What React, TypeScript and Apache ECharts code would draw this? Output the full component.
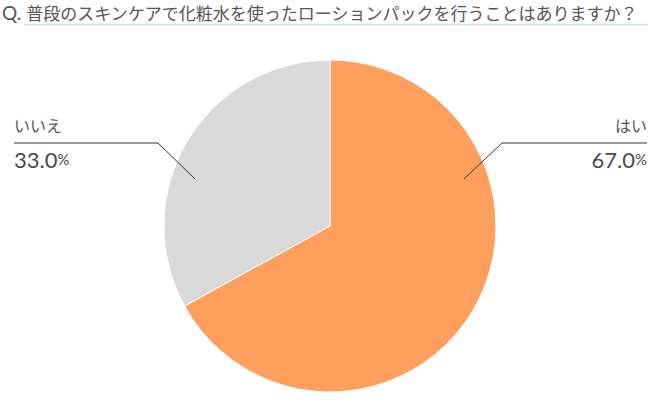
import { useEffect, useRef } from "react";
import * as echarts from "echarts";

const TITLE = "普段のスキンケアで化粧水を使ったローションパックを行うことはありますか？";
const categories = ["はい", "いいえ"];
const shares = [67.0, 33.0];
const colors = ["#ff9f5e", "#d9d9d9"];

// label anchor + leader line, per slice
const labelSpots = [
  { x: 647, y: 143, align: "right", line: [[464, 179], [502, 143], [647, 143]] },
  { x: 14, y: 143, align: "left", line: [[195, 179], [158, 143], [14, 143]] },
];

export default function App() {
  const ref = useRef<HTMLDivElement>(null);

  useEffect(() => {
    if (!ref.current) return;
    const chart = echarts.init(ref.current, null, { renderer: "svg" });

    chart.setOption({
      animation: false,
      title: {
        text: `{q|Q.} {t|${TITLE}}`,
        left: 2,
        top: 2,
        padding: 0,
        textStyle: {
          fontWeight: "normal",
          rich: {
            q: { fontFamily: "Lato", fontSize: 19, color: "#555", fontWeight: "normal", lineHeight: 20 },
            t: { fontFamily: "Noto Sans CJK JP", fontSize: 17, color: "#555", fontWeight: "normal", lineHeight: 20 },
          },
        },
      },
      graphic: [
        {
          type: "line",
          shape: { x1: 25, y1: 24.5, x2: 647, y2: 24.5 },
          style: { stroke: "#7fc8ba", lineWidth: 1.3, lineDash: [1.2, 2] },
        },
        // leader lines drawn on top of the sectors
        ...labelSpots.map((s) => ({
          type: "polyline",
          z: 100,
          shape: { points: s.line },
          style: { stroke: "#333", lineWidth: 1, fill: null },
        })),
      ],
      series: [
        {
          type: "pie",
          center: [330, 226],
          radius: 166,
          startAngle: 90,
          clockwise: true,
          itemStyle: { borderColor: "#fff", borderWidth: 1 },
          emphasis: { disabled: true },
          data: categories.map((name, i) => ({
            name,
            value: shares[i],
            itemStyle: { color: colors[i] },
          })),
          label: {
            show: true,
            position: "outside",
            formatter: (p: any) => `{n|${p.name}}\n{v|${p.value.toFixed(1)}}{p|%}`,
            rich: {
              n: { fontFamily: "Noto Sans CJK JP", fontSize: 16, color: "#555", lineHeight: 32 },
              v: { fontFamily: "Lato", fontSize: 22, color: "#4a4a4a", lineHeight: 36 },
              p: { fontFamily: "Lato", fontSize: 15, color: "#4a4a4a", lineHeight: 36 },
            },
          },
          labelLine: { show: false },
          labelLayout: (params: any) => {
            const s = labelSpots[params.dataIndex];
            return {
              x: s.x,
              y: s.y,
              align: s.align,
              verticalAlign: "middle",
            };
          },
        },
      ],
    });

    return () => {
      chart.dispose();
    };
  }, []);

  return (
    <div
      ref={ref}
      style={{ position: "absolute", left: 0, top: 0, width: 660, height: 400, background: "#fff" }}
    />
  );
}
